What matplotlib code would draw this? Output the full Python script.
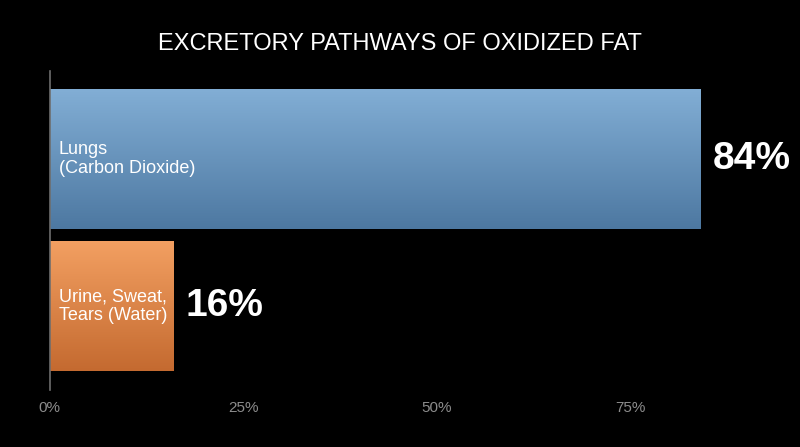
"""
Excretory pathways of oxidized fat: horizontal bar chart on black.
"""

import numpy as np
import matplotlib
matplotlib.use("Agg")
import matplotlib.pyplot as plt
from matplotlib.colors import LinearSegmentedColormap

# ── data ──────────────────────────────────────────────────────────────────────
categories = ["Urine, Sweat,\nTears (Water)", "Lungs\n(Carbon Dioxide)"]
values = [16, 84]
ticks = [0, 25, 50, 75]
tick_labels = ["0%", "25%", "50%", "75%"]
title = "EXCRETORY PATHWAYS OF OXIDIZED FAT"

# ── palette ───────────────────────────────────────────────────────────────────
BG = "black"
TICK_GRAY = "#8c8c8c"
AXIS_GRAY = "#6e6e6e"
GRADIENTS = [
    ("#f3a062", "#c46a30"),  # orange: top, bottom
    ("#82aed5", "#4d78a1"),  # blue:   top, bottom
]

plt.rcParams["font.family"] = ["Liberation Sans", "DejaVu Sans"]

fig = plt.figure(figsize=(8, 4.47), dpi=100)
fig.patch.set_facecolor(BG)
ax = fig.add_axes([0.062, 0.1275, 0.929, 0.7136])
ax.set_facecolor(BG)

ypos = np.arange(len(values))
bars = ax.barh(ypos, values, height=[0.885, 0.95], color="none",
               edgecolor="none")

# gradient fill clipped to each bar
for bar, (top, bottom) in zip(bars, GRADIENTS):
    cmap = LinearSegmentedColormap.from_list("g", [bottom, top])
    x0, y0 = bar.get_x(), bar.get_y()
    w, h = bar.get_width(), bar.get_height()
    grad = np.linspace(0, 1, 256).reshape(-1, 1)
    im = ax.imshow(grad, cmap=cmap, aspect="auto", origin="lower",
                   extent=(x0, x0 + w, y0, y0 + h), zorder=2)
    im.set_clip_path(bar)

ax.set_xlim(0, 96)
ax.set_ylim(-0.57, 1.6)

# labels inside and values outside the bars
for y, v, name in zip(ypos, values, categories):
    ax.text(1.2, y, name, color="white", fontsize=13, va="center",
            ha="left", linespacing=1.12, zorder=3)
    ax.annotate(f"{v}%", (v, y), xytext=(9, 0), textcoords="offset points",
                color="white", fontsize=28, fontweight="bold",
                va="center", ha="left", zorder=3)

# axes styling
for side in ["top", "right", "bottom"]:
    ax.spines[side].set_visible(False)
ax.spines["left"].set_color(AXIS_GRAY)
ax.spines["left"].set_linewidth(1.2)
ax.set_yticks([])
ax.set_xticks(ticks)
ax.set_xticklabels(tick_labels, color=TICK_GRAY, fontsize=11)
ax.tick_params(axis="x", length=0, pad=8)

fig.text(0.5, 0.902, title, color="white", fontsize=17,
         ha="center", va="center")

fig.savefig("out.png", dpi=100, facecolor=BG)
